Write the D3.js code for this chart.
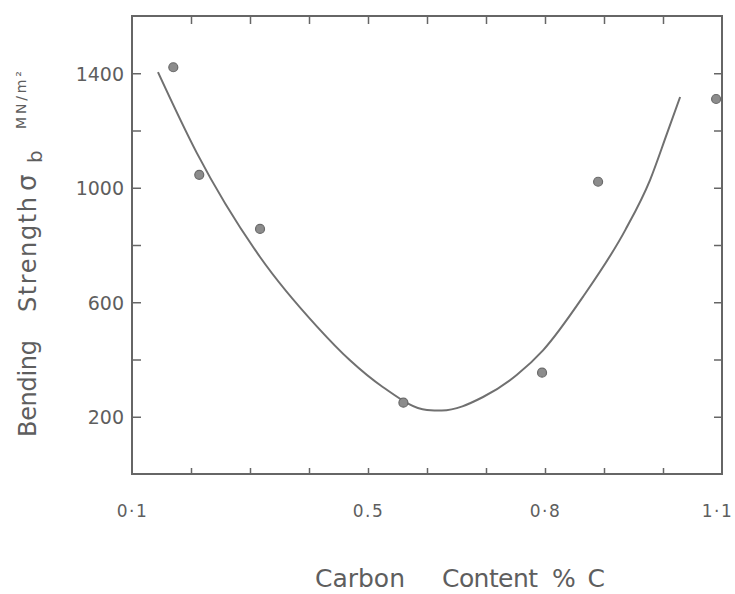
<!DOCTYPE html>
<html>
<head>
<meta charset="utf-8">
<script src="https://cdn.jsdelivr.net/npm/d3@7"></script>
<style>
  body { margin: 0; background: #fff; }
  svg text { font-family: "DejaVu Sans", sans-serif; fill: #5e5e5e; }
</style>
</head>
<body>
<div id="chart"></div>
<script>
// measured points (carbon %, bending strength MN/m^2)
const pointC = [0.17, 0.214, 0.317, 0.56, 0.795, 0.89, 1.09];
const pointS = [1421, 1045, 856, 249, 354, 1021, 1310];

// hand-drawn trend curve
const curveC = [0.144, 0.21, 0.317, 0.414, 0.469, 0.525, 0.6, 0.625, 0.695, 0.752, 0.797, 0.864, 0.936, 0.978, 1.007, 1.029];
const curveS = [1404, 1121, 758, 514, 398, 304, 224, 222, 269, 346, 433, 618, 852, 1027, 1191, 1317];

const xTicks = [0.2, 0.3, 0.4, 0.5, 0.6, 0.7, 0.8, 0.9, 1.0];
const xLabelVals = [0.1, 0.5, 0.8, 1.1];
const xLabels = ['0·1', '0.5', '0·8', '1·1'];
const yTicks = [200, 400, 600, 800, 1000, 1200, 1400];
const yLabelVals = [200, 600, 1000, 1400];
const yLabels = ['200', '600', '1000', '1400'];

const W = 735, H = 594;
const svg = d3.select('#chart').append('svg').attr('width', W).attr('height', H);

const x = d3.scaleLinear().domain([0.1, 1.1]).range([132, 722]);
const y = d3.scaleLinear().domain([0, 1600]).range([474, 16]);

const ink = '#666';

// inward ticks on all four sides
const tickGroup = (g) => {
  g.select('.domain').remove();
  g.selectAll('.tick line').attr('stroke', ink).attr('stroke-width', 1.5);
};
svg.append('g').attr('transform', `translate(0,${y(0)})`)
  .call(d3.axisBottom(x).tickValues(xTicks).tickSize(-6).tickFormat(''))
  .call(tickGroup);
svg.append('g').attr('transform', `translate(0,${y(1600)})`)
  .call(d3.axisTop(x).tickValues(xTicks).tickSize(-8).tickFormat(''))
  .call(tickGroup);
svg.append('g').attr('transform', `translate(${x(0.1)},0)`)
  .call(d3.axisLeft(y).tickValues(yTicks).tickSize(-9).tickPadding(8)
    .tickFormat(d => { const i = yLabelVals.indexOf(d); return i < 0 ? '' : yLabels[i]; }))
  .call(tickGroup)
  .selectAll('text').style('font-size', '19px').attr('dy', '0.36em');
svg.append('g').attr('transform', `translate(${x(1.1)},0)`)
  .call(d3.axisRight(y).tickValues(yTicks).tickSize(-8).tickFormat(''))
  .call(tickGroup);

// x labels (at frame edges too, so separate axis without tick lines)
svg.append('g').attr('transform', `translate(0,${y(0)})`)
  .call(d3.axisBottom(x).tickValues(xLabelVals).tickSize(0).tickPadding(43)
    .tickFormat((d, i) => xLabels[i]))
  .call(g => g.select('.domain').remove())
  .selectAll('text').style('font-size', '17px').attr('dy', '0')
  .style('letter-spacing', '1.5px')
  .attr('dx', (d, i) => i === xLabels.length - 1 ? -5 : 0);

// frame
svg.append('rect')
  .attr('x', x(0.1)).attr('y', y(1600))
  .attr('width', x(1.1) - x(0.1)).attr('height', y(0) - y(1600))
  .attr('fill', 'none').attr('stroke', ink).attr('stroke-width', 2);

// trend curve
const curveData = curveC.map((c, i) => ({ c, s: curveS[i] }));
svg.append('path').datum(curveData)
  .attr('fill', 'none').attr('stroke', '#707070').attr('stroke-width', 2)
  .attr('d', d3.line().x(d => x(d.c)).y(d => y(d.s)).curve(d3.curveMonotoneX));

// data points
const pts = pointC.map((c, i) => ({ c, s: pointS[i] }));
svg.selectAll('.pt').data(pts).join('circle').attr('class', 'pt')
  .attr('cx', d => x(d.c)).attr('cy', d => y(d.s)).attr('r', 4.5)
  .attr('fill', '#8c8c8c').attr('stroke', '#6a6a6a').attr('stroke-width', 1.2);

// axis titles
const xt = svg.append('text').attr('y', 587).style('font-size', '25px');
xt.append('tspan').attr('x', 315).attr('textLength', 90).text('Carbon');
xt.append('tspan').attr('x', 442).attr('textLength', 96).text('Content');
xt.append('tspan').attr('x', 552).attr('textLength', 53).text('% C');

const yt = svg.append('text')
  .attr('transform', 'translate(36,437) rotate(-90)')
  .style('font-size', '24px');
yt.append('tspan').attr('x', 0).attr('textLength', 97).text('Bending');
yt.append('tspan').attr('x', 125).attr('textLength', 115).text('Strength');
yt.append('tspan').attr('x', 246).style('font-size', '26px').text('σ');
yt.append('tspan').attr('x', 274).attr('dy', 6).style('font-size', '20px').text('b');
yt.append('tspan').attr('x', 308).attr('dy', -16).style('font-size', '14px')
  .attr('textLength', 58).text('MN/m²');
</script>
</body>
</html>
